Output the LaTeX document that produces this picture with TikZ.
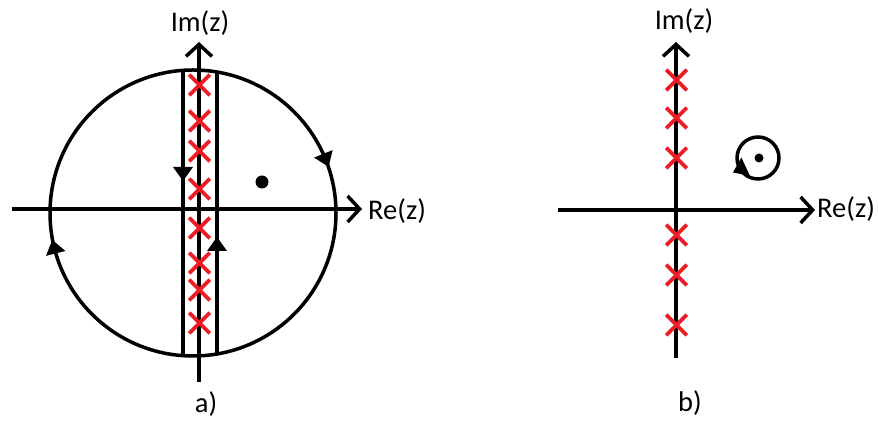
\documentclass[tikz,border=0pt]{standalone}
\usepackage{fontspec}
\setmainfont{Carlito}
\usetikzlibrary{arrows.meta,shapes.misc,calc}
\definecolor{xred}{RGB}{237,28,36}
\tikzset{
  axis/.style={line width=3.5pt,-{Straight Barb[length=12pt,width=26pt,line width=3.5pt]}},
  curve/.style={line width=3.5pt},
  pole/.style={cross out,draw=xred,line width=3.6pt,minimum size=17pt,inner sep=0pt},
  lbl/.style={font=\fontsize{28.5}{34}\selectfont,inner sep=0pt},
  tri/.pic={\fill (8pt,0) -- (-6pt,10pt) -- (-6pt,-10pt) -- cycle;}
}
\begin{document}
\begin{tikzpicture}[x=1pt,y=1pt]
\useasboundingbox[fill=white] (0,0) rectangle (878,422);
% ---------- panel a ----------
\coordinate (ca) at (193,209);
\coordinate (imA0) at (199,40);
\coordinate (imA1) at (199,380);
\coordinate (reA0) at (12,213);
\coordinate (reA1) at (362,213);
\draw[curve] (ca) circle (143pt);
% strip
\coordinate (sl0) at (183,66.4);
\coordinate (sl1) at (183,351.6);
\coordinate (sr0) at (217,68.0);
\coordinate (sr1) at (217,350.0);
\draw[line width=4pt] (sl0) -- (sl1);
\draw[line width=4pt] (sr0) -- (sr1);
\draw[axis] (reA0) -- (reA1);
\draw[axis] (imA0) -- (imA1);
\node[lbl,anchor=base] (imA) at (200,390) {Im(z)};
\node[lbl,anchor=base west] (reA) at (368,202) {Re(z)};
\node[lbl,anchor=base] (la) at (206,9) {a)};
\foreach \y [count=\i] in {337,301,271,233,194,159,132,99}
  \node[pole] (pa\i) at (199.5,\y) {};
% direction marks
\pic[rotate=-90] at (183,249) {tri};
\pic[rotate=90] at (217,177) {tri};
\pic[rotate=-68] at ($(ca)+(22:143pt)$) {tri};
\pic[rotate=104] at ($(ca)+(194:143pt)$) {tri};
\fill (262,240) circle (6.5pt);
% ---------- panel b ----------
\coordinate (imB0) at (676,64);
\coordinate (imB1) at (676,380);
\coordinate (reB0) at (558,212);
\coordinate (reB1) at (815,212);
\draw[axis] (reB0) -- (reB1);
\draw[axis] (imB0) -- (imB1);
\node[lbl,anchor=base] (imB) at (684,392) {Im(z)};
\node[lbl,anchor=base west] (reB) at (817,204) {Re(z)};
\node[lbl,anchor=base] (lb) at (690,10) {b)};
\foreach \y [count=\i] in {342,304,264,187,147,97}
  \node[pole] (pb\i) at (676.5,\y) {};
\coordinate (cb) at (758,264);
\draw[curve] (cb) circle (21pt);
\fill (759,264) circle (4.5pt);
\pic[rotate=205] at ($(cb)+(212:21pt)$) {tri};
\end{tikzpicture}
\end{document}
